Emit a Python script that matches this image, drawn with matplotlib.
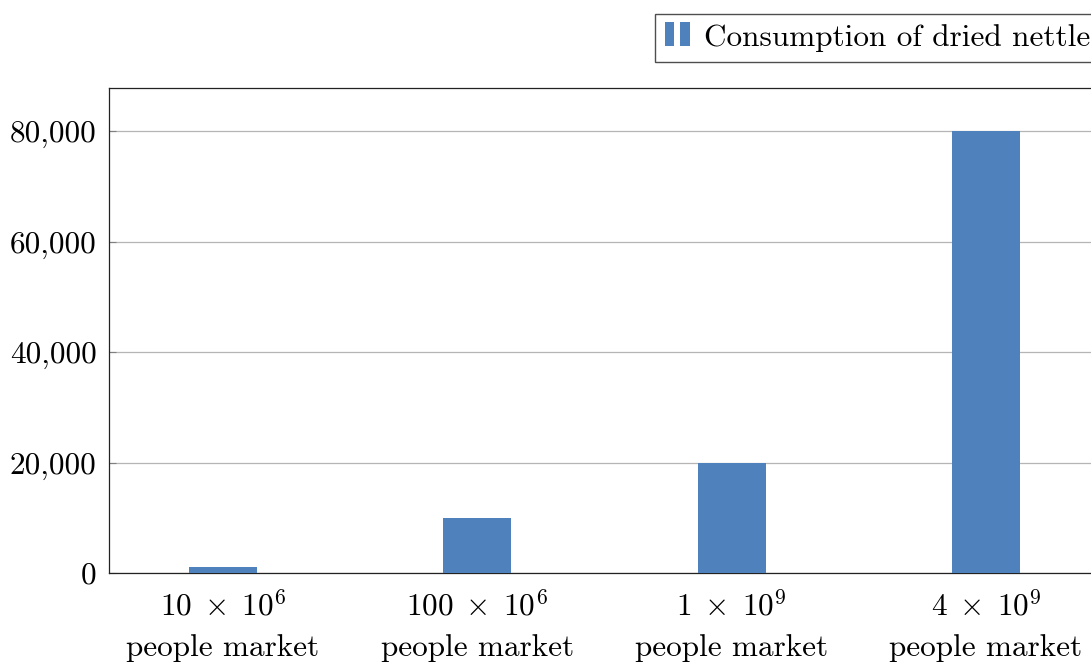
import matplotlib.pyplot as plt
from matplotlib.legend_handler import HandlerBase
from matplotlib.patches import Rectangle
from matplotlib.ticker import FuncFormatter

plt.rcParams['font.family'] = ['cmr10', 'DejaVu Serif']
plt.rcParams['mathtext.fontset'] = 'cm'
plt.rcParams['axes.unicode_minus'] = False

markets = [r'$10\;\times\;10^6$', r'$100\;\times\;10^6$', r'$1\;\times\;10^9$', r'$4\;\times\;10^9$']
consumption = [1000, 10000, 20000, 80000]
series_name = 'Consumption of dried nettle'
bar_color = '#4f81bd'
fs = 22.5


class TwoBarHandler(HandlerBase):
    # small pair of bars, like a pgfplots ybar legend
    def create_artists(self, legend, orig_handle, xdescent, ydescent,
                       width, height, fontsize, trans):
        w = width * 0.38
        bars = []
        for x0 in (0.0, width * 0.62):
            r = Rectangle((x0 - xdescent, -ydescent), w, height * 1.1,
                          facecolor=bar_color, edgecolor='none', transform=trans)
            bars.append(r)
        return bars


fig = plt.figure(figsize=(10.91, 6.64), dpi=100)
ax = fig.add_axes([109 / 1091, 91 / 664, 991 / 1091, 485 / 664])

x = list(range(len(markets)))
bars = ax.bar(x, consumption, width=0.266, color=bar_color, zorder=3)

ax.set_xlim(-0.448, 3.448)
ax.set_ylim(0, 87800)
ax.set_yticks([0, 20000, 40000, 60000, 80000])
ax.yaxis.set_major_formatter(FuncFormatter(lambda v, p: f'{v:,.0f}'))
ax.set_xticks(x)
ax.set_xticklabels([m + '\npeople market' for m in markets], linespacing=1.52)

ax.grid(axis='y', color='#b5b5b5', linewidth=0.9, zorder=0)
ax.tick_params(axis='y', direction='in', length=5, color='#808080', labelsize=fs, pad=9)
ax.tick_params(axis='x', length=0, labelsize=fs, pad=13)
for s in ax.spines.values():
    s.set_color('#222222')
    s.set_linewidth(0.9)

fig.legend([bars], [series_name], handler_map={type(bars): TwoBarHandler()},
           loc='upper right', bbox_to_anchor=(1100 / 1091, 1 - 14 / 664),
           borderaxespad=0, fontsize=fs, frameon=True, fancybox=False,
           edgecolor='#222222', handlelength=0.8, handletextpad=0.45,
           borderpad=0.32)

fig.savefig('out.png', dpi=100)
